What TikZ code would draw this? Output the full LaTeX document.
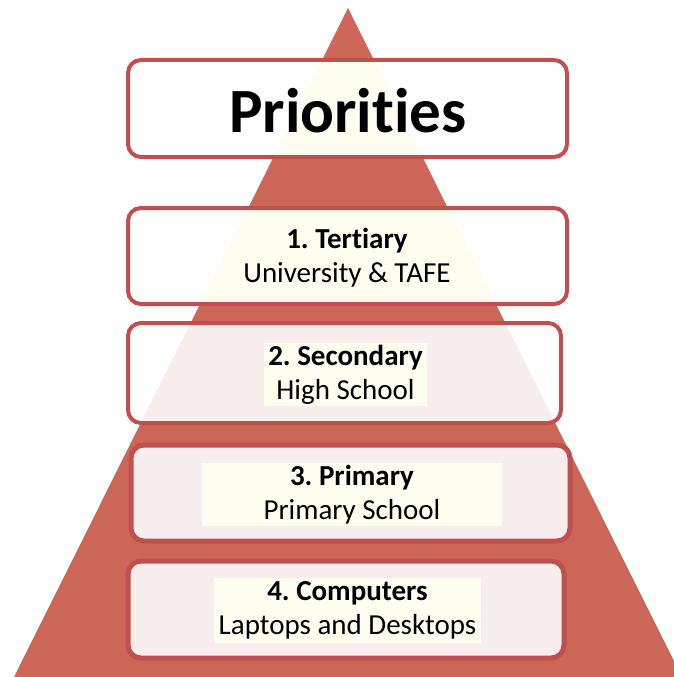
\documentclass[tikz,border=0pt]{standalone}
\usepackage{fontspec}
\setmainfont{Carlito}[Ligatures=NoCommon]
\usetikzlibrary{positioning}

\definecolor{pyramid}{HTML}{CC6656}
\definecolor{boxline}{HTML}{C0504D}
\definecolor{ivory}{HTML}{FDFEEF}
\definecolor{blush}{HTML}{F8EDED}

\newcommand{\tier}[2]{{\bfseries #1}\\#2}

\tikzset{
  tierbox/.style={draw=boxline,line width=4pt,rounded corners=13pt,fill=white},
  topbox/.style={tierbox,path picture={\fill[ivory] (apex) -- (baseL) -- (baseR) -- cycle;}},
  lowbox/.style={tierbox,path picture={\fill[blush] (apex) -- (baseL) -- (baseR) -- cycle;}},
  tiertext/.style={align=center,inner sep=0pt,font=\fontsize{29}{34}\selectfont},
  hilite/.style={tiertext,fill=ivory}
}

\begin{document}
\frenchspacing
\begin{tikzpicture}[x=1pt,y=-1pt]
\useasboundingbox (0,0) rectangle (674,677);

% pyramid
\coordinate (apex) at (348,8);
\coordinate (baseL) at (14,677);
\coordinate (baseR) at (682,677);
\begin{scope}
\clip (0,0) rectangle (674,677);
\fill[pyramid] (apex) -- (baseL) -- (baseR) -- cycle;
\end{scope}

% boxes
\node (prio) at (347.5,108.5)[topbox,minimum width=439pt,minimum height=97pt] {};
\node (tert) at (347.5,256)[topbox,minimum width=439pt,minimum height=96pt] {};
\node (sec) at (344.5,373)[lowbox,minimum width=433pt,minimum height=100pt] {};
\node (prim) at (350.5,493)[lowbox,line width=5pt,minimum width=439pt,minimum height=96pt] {};
\node (comp) at (346,609.5)[lowbox,line width=5pt,minimum width=436pt,minimum height=97pt] {};

% labels
\node (prioT) at (348,111)[font=\fontsize{63}{70}\selectfont\bfseries] {Priorities};
\node (tertT) at (347,258)[tiertext] {\tier{1. Tertiary}{University \& TAFE}};
\node (secT) at (345.5,374.5)[hilite,inner xsep=4pt,minimum width=163pt,minimum height=63pt] {\tier{2. Secondary}{High School}};
\node (primT) at (352,494.5)[hilite,minimum width=300pt,minimum height=63pt] {\tier{3. Primary}{Primary School}};
\node (compT) at (347.5,610.5)[hilite,inner xsep=3pt,minimum width=267pt,minimum height=65pt] {\tier{4. Computers}{Laptops and Desktops}};
\end{tikzpicture}
\end{document}
